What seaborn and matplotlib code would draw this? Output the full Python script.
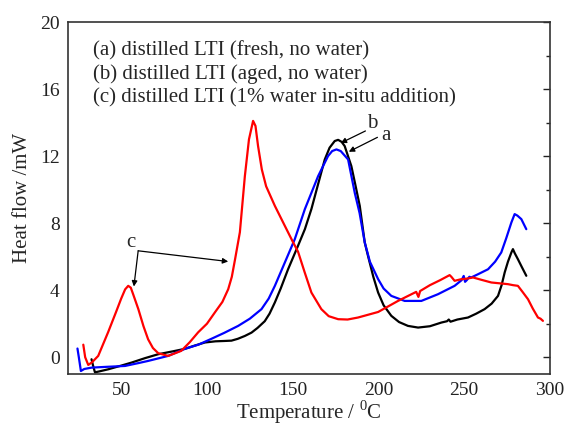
import matplotlib
matplotlib.use("Agg")
import matplotlib.pyplot as plt
import numpy as np
import pandas as pd
import seaborn as sns
from matplotlib.ticker import MultipleLocator

# (a) distilled LTI, fresh, no water  -- black
temp_a = [32.7, 33.6, 34.7, 37, 42.4, 50, 56, 64, 71.6, 80, 87.1, 93, 98.8, 105, 110,
          114.3, 118, 122.1, 126, 129.5, 133.7, 136.5, 139.6, 143, 147.3, 153.1, 157.1,
          160.9, 165, 168.7, 171.5, 174.5, 176.5, 178.5, 180.3, 184.2, 186.5, 189.1,
          192, 193.9, 197, 199.8, 203, 207.5, 212, 217.2, 223.1, 230, 236.7, 240, 241,
          242, 246, 252.2, 257, 261.9, 266, 269.7, 271.8, 273.6, 275.5, 277.5, 278.4,
          279.5, 281.3, 283.5, 286.2]
heat_a = [-0.12, -0.5, -0.9, -0.85, -0.72, -0.5, -0.32, -0.05, 0.18, 0.35, 0.5, 0.7, 0.88,
          0.95, 0.97, 0.99, 1.1, 1.27, 1.47, 1.75, 2.15, 2.6, 3.27, 4.1, 5.25, 6.65, 7.64,
          8.84, 10.4, 11.8, 12.5, 12.9, 12.97, 12.85, 12.6, 11.4, 10.3, 9.03, 6.85, 6.05,
          4.8, 3.86, 3.1, 2.47, 2.1, 1.87, 1.77, 1.85, 2.07, 2.15, 2.25, 2.12, 2.25, 2.37,
          2.6, 2.87, 3.2, 3.66, 4.3, 5.06, 5.7, 6.25, 6.45, 6.2, 5.85, 5.4, 4.86]

# (b) distilled LTI, aged, no water  -- blue
temp_b = [24.5, 25.3, 26.5, 28.5, 32.7, 40, 52.2, 60, 65.7, 77.4, 87.1, 95, 102.6, 110,
          118.2, 125, 131.8, 136, 139.6, 145.4, 151.2, 157.1, 164.8, 170.6, 173, 175.5,
          178, 182.3, 186.2, 189, 192, 195, 199.8, 203, 207.5, 215.3, 225, 234.7, 244.4,
          248.5, 249.7, 250.5, 251.5, 253, 254.1, 258, 263.9, 268, 271.6, 274.5, 277.5,
          279.4, 281, 283.3, 286.2]
heat_b = [0.52, 0.0, -0.82, -0.7, -0.62, -0.58, -0.52, -0.35, -0.22, 0.08, 0.5, 0.75, 1.1,
          1.45, 1.87, 2.3, 2.87, 3.5, 4.26, 5.65, 7.04, 8.84, 10.8, 12.0, 12.3, 12.4, 12.3,
          11.8, 9.8, 8.6, 6.85, 5.7, 4.66, 4.1, 3.66, 3.36, 3.36, 3.76, 4.26, 4.6, 4.85,
          4.5, 4.6, 4.8, 4.76, 4.95, 5.25, 5.7, 6.25, 7.1, 8.04, 8.54, 8.45, 8.24, 7.64]

# (c) distilled LTI, 1% water in-situ addition  -- red
temp_c = [27.9, 29.0, 30.8, 33.0, 36.6, 42.4, 47, 50, 52.3, 54.1, 55.6, 57, 60, 63, 65.7,
          68.5, 71.6, 77.4, 85, 90, 94.9, 100, 104.8, 109, 112.4, 114.5, 116.4, 119.2,
          122.1, 124.5, 126.9, 128.3, 129.8, 132, 134.5, 139.6, 145.4, 150.2, 153.1, 157,
          160.9, 166.7, 171, 176.5, 182, 188.1, 199.8, 211.4, 222, 223.3, 224.3, 230, 236,
          241.5, 242.5, 244.4, 248, 252.2, 255.1, 260, 265.8, 275.5, 278.5, 281.3, 284,
          287.2, 290, 293, 294.5, 295.9]
heat_c = [0.75, 0.0, -0.46, -0.3, 0.08, 1.5, 2.7, 3.5, 4.05, 4.26, 4.15, 3.75, 2.87, 1.85,
          1.07, 0.55, 0.24, 0.08, 0.38, 0.9, 1.49, 2.0, 2.7, 3.3, 4.06, 4.8, 5.85, 7.46,
          10.8, 13.0, 14.1, 13.8, 12.6, 11.2, 10.2, 9.03, 7.84, 6.86, 6.3, 5.06, 3.86, 2.87,
          2.45, 2.27, 2.25, 2.37, 2.7, 3.36, 3.9, 3.6, 3.95, 4.3, 4.6, 4.9, 4.8, 4.56, 4.65,
          4.7, 4.76, 4.62, 4.46, 4.36, 4.3, 4.26, 3.9, 3.46, 2.9, 2.37, 2.3, 2.17]

legend_lines = ["(a) distilled LTI (fresh, no water)",
                "(b) distilled LTI (aged, no water)",
                "(c) distilled LTI (1% water in-situ addition)"]

df = pd.concat([
    pd.DataFrame({"T": temp_a, "H": heat_a, "s": "a"}),
    pd.DataFrame({"T": temp_b, "H": heat_b, "s": "b"}),
    pd.DataFrame({"T": temp_c, "H": heat_c, "s": "c"}),
], ignore_index=True)

sns.set_style("white")
plt.rcParams["font.family"] = ["Liberation Serif", "DejaVu Serif"]
plt.rcParams["mathtext.fontset"] = "custom"
plt.rcParams["mathtext.rm"] = "Liberation Serif"

fig = plt.figure(figsize=(5.65, 4.29), dpi=100)
ax = fig.add_axes([0.1204, 0.1282, 0.853, 0.8205])

sns.lineplot(data=df, x="T", y="H", hue="s", units="s", estimator=None, sort=False,
             palette={"a": "black", "b": "#0000ff", "c": "#ff0000"},
             hue_order=["a", "b", "c"], lw=1.6, legend=False, ax=ax)

ax.set_xlim(19, 300)
ax.set_ylim(-1, 20)
ax.xaxis.set_major_locator(MultipleLocator(50))
ax.xaxis.set_minor_locator(MultipleLocator(25))
ax.yaxis.set_major_locator(MultipleLocator(4))
ax.yaxis.set_minor_locator(MultipleLocator(2))
ax.tick_params(which="both", direction="in", right=True, top=False, labelsize=14,
               colors="#222222")
ax.tick_params(which="major", length=5, width=1, pad=6)
ax.tick_params(which="minor", length=3, width=1)
for sp in ax.spines.values():
    sp.set_linewidth(1.2)
    sp.set_color("#333333")

ax.set_xlabel(r"Temperature / $^{\mathregular{0}}$C", fontsize=15, labelpad=-1)
ax.set_ylabel("Heat flow /mW", fontsize=15, labelpad=6)

for i, line in enumerate(legend_lines):
    ax.text(33.7, 18.3 - 1.4 * i, line, fontsize=15, va="center", ha="left")

arrow = dict(arrowstyle="-|>", color="black", lw=0.9, mutation_scale=8, shrinkA=0, shrinkB=0)
ax.text(55.6, 6.85, "c", fontsize=15, ha="center", va="center")
ax.annotate("", xy=(57.4, 4.22), xytext=(59.9, 6.35), arrowprops=arrow)
ax.annotate("", xy=(112.4, 5.71), xytext=(59.9, 6.35), arrowprops=arrow)
ax.text(196.6, 13.95, "b", fontsize=15, ha="center", va="center")
ax.annotate("", xy=(178, 12.78), xytext=(192.4, 13.5), arrowprops=arrow)
ax.text(204.3, 13.2, "a", fontsize=15, ha="center", va="center")
ax.annotate("", xy=(182.7, 12.26), xytext=(199.4, 13.12), arrowprops=arrow)

fig.savefig("out.png", dpi=100)
